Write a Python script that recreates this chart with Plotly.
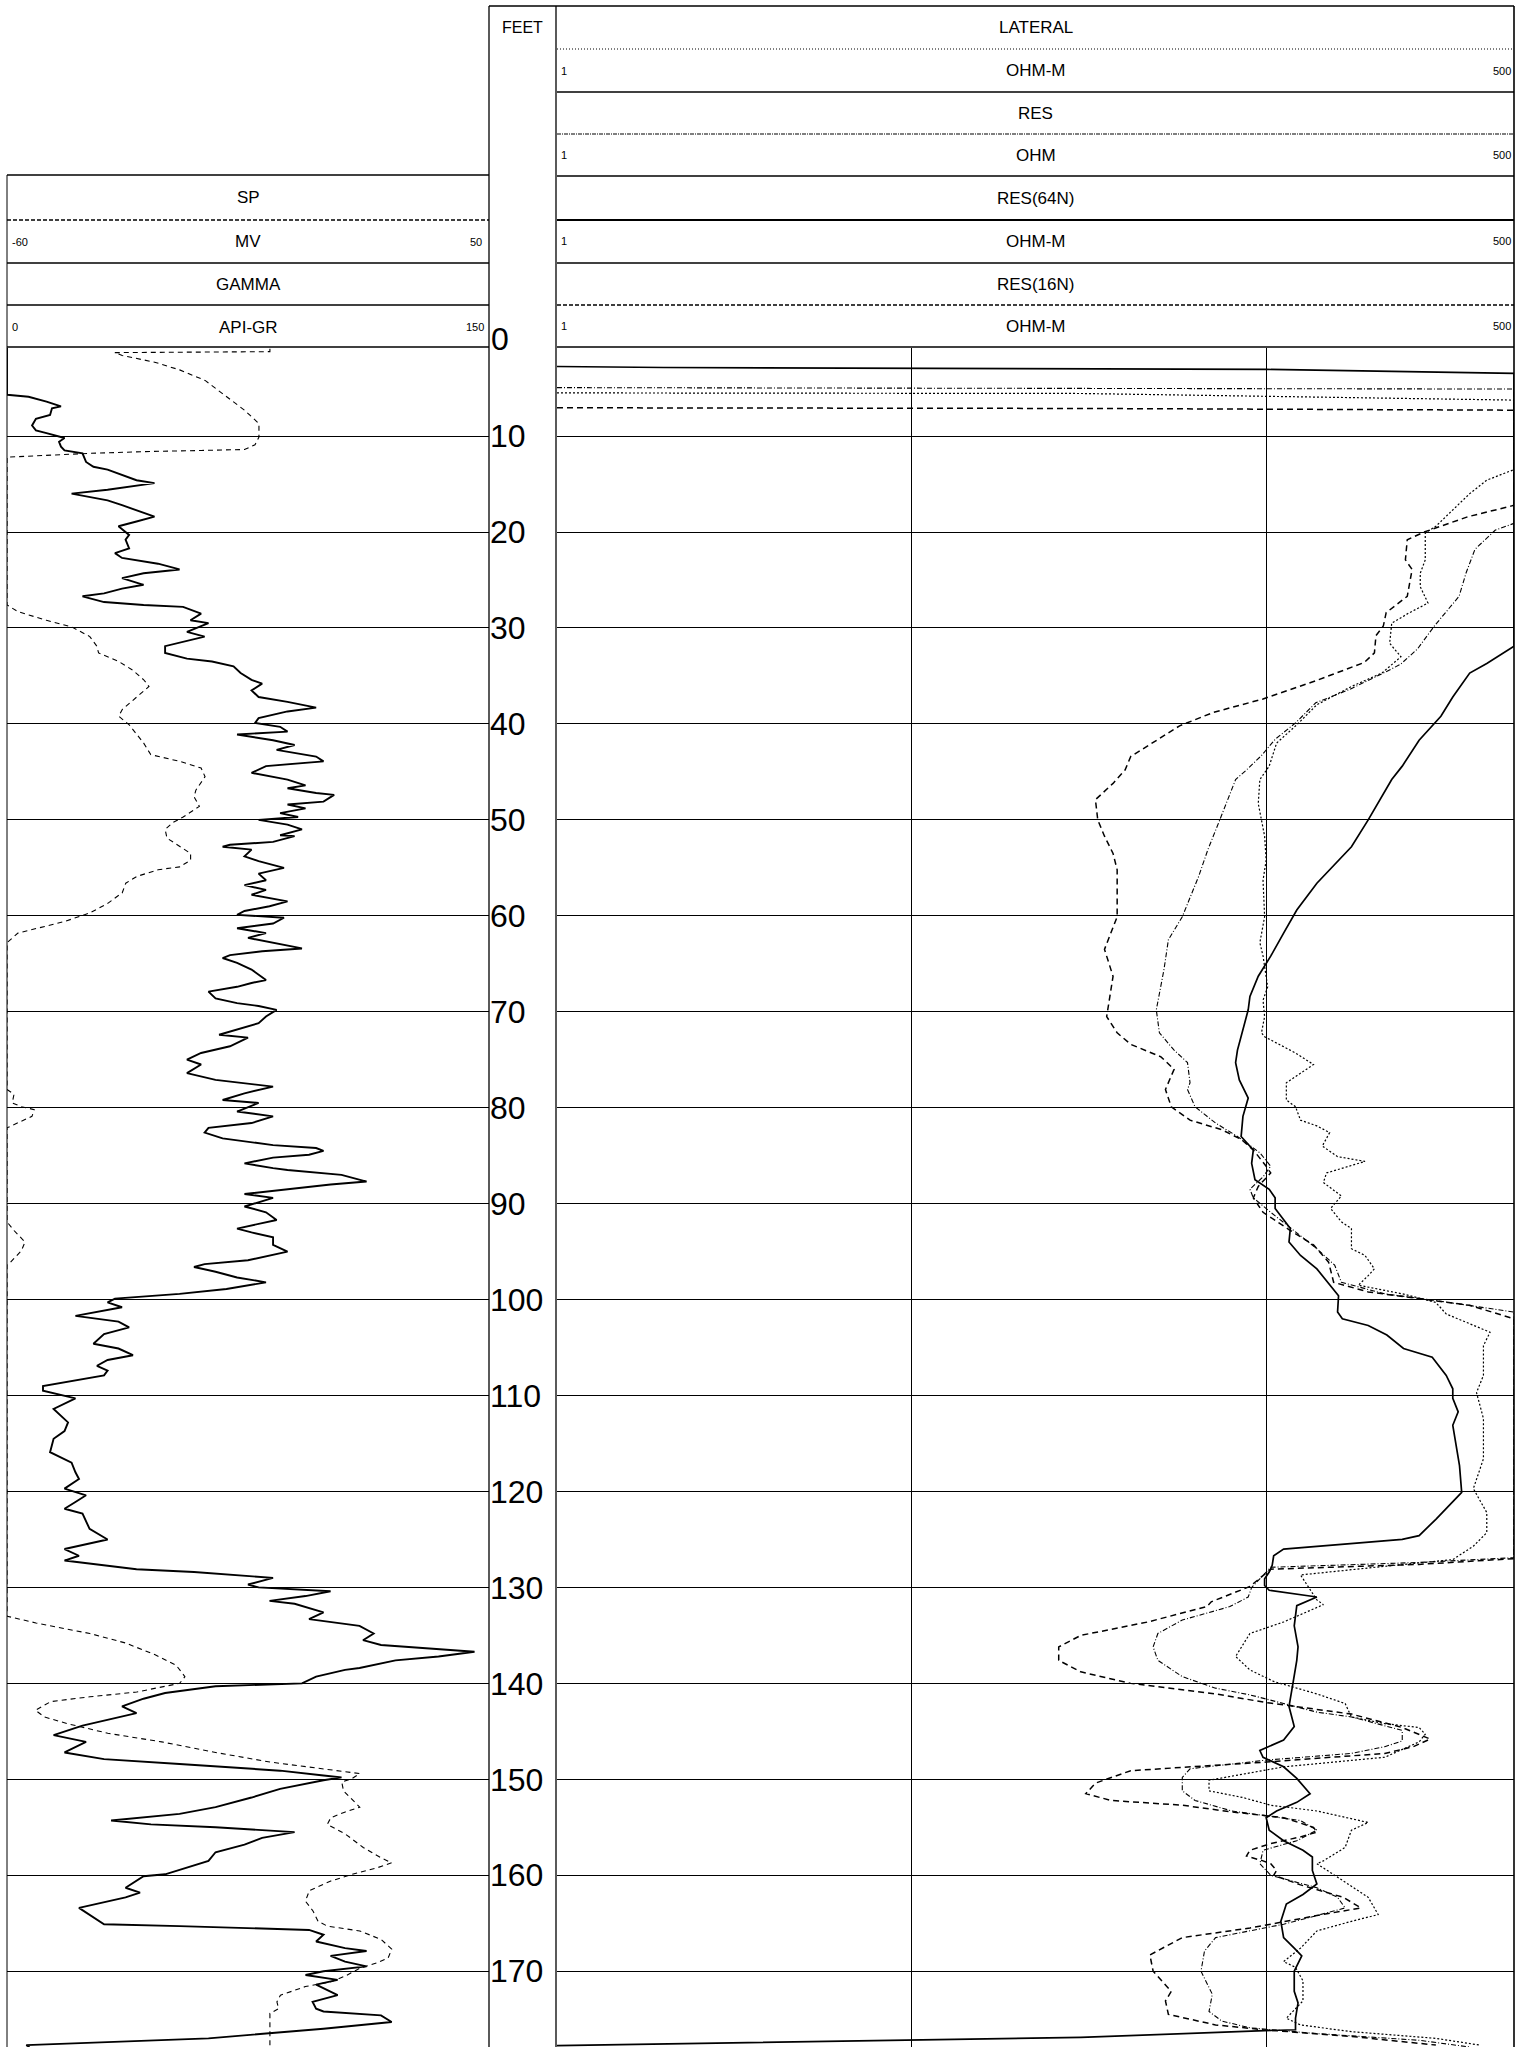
import math
import plotly.graph_objects as go

# ---------------- data (depth in feet, value in curve units) ----------------
DEPTH_TICKS = list(range(10, 180, 10))

GAMMA_API = [
(0.82,0),(5.7,0),(5.9,6.7),(6.4,12.3),(6.9,16.8),(7.1,14.0),(7.8,13.4),(8.2,9.0),(8.9,7.8),(9.4,9.0),(9.7,12.3),(10.2,17.9),(10.6,16.2),(11.1,16.8),(11.5,17.9),(11.8,23.5),(12.7,24.6),(13.2,26.9),(13.5,31.3),(14.2,36.9),(14.6,40.3),(14.9,45.9),(15.6,31.3),(16.0,20.1),(16.3,24.6),(16.7,31.3),(17.2,35.8),(17.7,40.3),(18.4,45.9),(18.9,40.3),(19.4,34.7),(20.3,38.0),(20.8,36.9),(21.7,38.0),(22.2,33.6),(22.7,35.8),(23.3,47.0),(23.9,53.7),(24.3,42.5),(24.8,35.8),(25.5,42.5),(25.9,35.8),(26.4,30.2),(26.7,23.5),(27.3,30.2),(27.6,42.5),(27.8,54.8),(28.5,60.4),(29.2,57.1),(29.5,62.7),(30.4,56.0),(30.9,61.5),(31.9,49.2),(32.6,49.2),(33.2,56.0),(33.5,63.8),(34.0,70.5),(34.7,72.7),(35.4,76.1),(35.8,79.4),(36.5,76.1),(37.2,78.3),(37.7,87.3),(38.3,96.2),(38.7,87.3),(39.4,78.3),(39.9,77.2),(40.3,85.0),(40.8,87.3),(41.1,71.6),(41.7,82.8),(42.2,89.5),(42.7,83.9),(43.4,96.2),(43.9,98.5),(44.4,80.6),
(45.1,76.1),(45.8,87.3),(46.4,92.9),(46.7,87.3),(47.2,96.2),(47.4,101.8),(48.1,98.5),(48.4,87.3),(48.8,92.9),(49.3,85.0),(49.7,90.6),(50.0,78.3),(50.5,87.3),(51.0,91.8),(51.6,85.0),(51.7,89.5),(52.3,82.8),(52.6,69.4),(52.8,67.1),(53.1,76.1),(53.8,73.9),(54.3,78.3),(55.0,86.2),(55.6,78.3),(56.3,80.6),(56.8,73.9),(57.3,80.6),(57.8,76.1),(58.5,87.3),(59.0,81.7),(59.5,73.9),(59.9,71.6),(60.2,86.2),(60.8,82.8),(61.3,71.6),(61.8,80.6),(62.3,75.0),(63.4,91.8),(63.7,79.4),(64.1,69.4),(64.4,67.1),(64.9,71.6),(65.6,76.1),(66.7,80.6),(67.0,76.1),(67.4,71.6),(67.9,62.7),(68.6,64.9),(69.1,71.6),(69.4,78.3),(69.8,83.9),(70.5,80.6),(71.2,78.3),(72.4,66.0),(72.7,75.0),(73.6,69.4),(74.3,60.4),(75.0,56.0),(75.5,60.4),(76.4,56.0),(77.1,64.9),(77.8,82.8),(78.5,73.9),(79.2,67.1),(79.5,78.3),(80.4,71.6),(80.9,82.8),(81.6,76.1),(82.1,62.7),(82.6,61.5),(83.2,67.1),(83.9,82.8),(84.2,96.2),(84.5,98.5),(84.9,94.0),(85.2,82.8),(85.8,73.9),(86.3,82.8),(86.5,87.3),(87.0,104.1),(87.7,111.9),(88.0,100.7),(88.5,87.3),(89.0,73.9),(89.4,82.8),
(90.3,73.9),(90.9,80.6),(91.7,83.9),(92.6,71.6),(93.0,76.1),(93.5,82.8),(94.3,82.8),(95.0,87.3),(95.9,75.0),(96.3,61.5),(96.6,58.2),(97.1,64.9),(97.7,71.6),(98.2,80.6),(98.9,68.3),(99.4,53.7),(99.9,33.6),(100.3,31.3),(100.8,35.8),(101.7,21.3),(102.3,34.7),(102.9,38.0),(103.6,30.2),(104.6,26.9),(105.1,34.7),(105.8,39.2),(106.3,31.3),(106.9,28.0),(107.4,31.3),(107.9,30.2),(109.0,11.2),(109.5,11.2),(110.3,21.3),(111.4,14.5),(112.8,19.0),(113.7,17.9),(114.5,14.5),(115.9,13.4),(117.0,20.1),(118.0,21.3),(118.7,22.4),(119.7,17.9),(120.4,24.6),(121.1,21.3),(121.8,17.9),(122.3,23.5),(123.2,24.6),(123.9,25.7),(125.0,31.3),(126.0,17.9),(126.7,22.4),(127.2,17.9),(128.1,40.3),(128.4,58.2),(129.0,82.8),(129.7,75.0),(130.0,78.3),(130.4,100.7),(130.9,92.9),(131.4,81.7),(131.7,89.5),(132.6,98.5),(133.3,94.0),(134.0,109.7),
(134.8,114.1),(135.5,110.8),(136.0,116.4),(136.7,145.5),(137.2,134.3),(137.6,120.9),(138.4,109.7),(138.6,105.2),(139.3,96.2),(140.0,91.8),(140.3,64.9),(141.0,49.2),(141.6,42.5),(142.4,35.8),(143.1,40.3),(144.0,29.1),(144.4,23.5),(145.4,14.5),(146.1,24.6),(147.2,17.9),(147.9,30.2),(148.4,53.7),(149.1,85.0),(149.6,98.5),(149.8,104.1),(150.1,98.5),(151.0,85.0),(151.9,76.1),(152.9,64.9),(153.6,53.7),(154.3,32.4),(154.7,44.8),(155.0,64.9),(155.5,89.5),(156.1,79.4),(156.8,73.9),(157.6,64.9),(158.5,62.7),(159.9,49.2),(160.1,42.5),(160.6,40.3),(161.3,36.9),(161.8,41.4),(162.3,36.9),(163.4,22.4),(164.4,26.9),(165.1,30.2),(165.3,53.7),(165.7,94.0),(166.2,98.5),(166.9,96.2),(167.6,105.2),(167.9,111.9),(168.4,100.7),(169.0,105.2),(169.5,111.9),(170.0,98.5),(170.4,92.9),(170.9,102.9),(171.4,96.2),(172.5,102.9),(173.2,95.1),(173.9,96.2),(174.2,98.5),(174.6,116.4),(175.3,119.7),(176.0,98.5),(177.0,62.7),(177.7,6.0),(177.9,7.0)]

SP_MV = [
(0.9,0),(1.2,0),(1.3,-35.4),(1.6,-33.7),(2.3,-26.3),(3.1,-20.6),(4.2,-14.8),(5.6,-10.7),(7.3,-5.8),(8.7,-2.5),(10.1,-2.5),(10.9,-3.4),(11.4,-5.8),(11.5,-15.7),(11.6,-27.2),(11.8,-41.1),(12.1,-57.5),(12.2,-60),
(27.6,-60),(28.3,-57.5),(29.2,-51.0),(29.9,-45.2),(30.9,-41.1),(31.9,-39.5),(32.6,-39.1),(33.5,-34.5),(34.4,-31.3),(35.4,-28.8),(36.1,-27.6),(37.2,-30.4),(38.5,-33.7),(39.2,-34.5),(40.1,-32.1),(40.8,-30.9),(42.0,-28.8),(43.2,-27.2),(43.9,-20.6),(44.6,-15.7),
(45.5,-14.8),(46.9,-16.9),(47.6,-17.3),(48.6,-16.1),(49.7,-19.8),(50.3,-22.2),(51.0,-23.9),(51.9,-23.5),(52.8,-20.6),(53.5,-18.1),(54.2,-18.1),(54.9,-20.6),(55.2,-25.5),(55.9,-30.4),(56.6,-32.9),(57.6,-33.7),(58.7,-37.0),(59.7,-41.1),(60.6,-46.9),(61.3,-53.4),(61.8,-57.5),(62.8,-60),
(78.1,-60),(78.6,-58.4),(79.5,-58.8),(79.9,-56.7),(80.2,-53.8),(80.9,-54.3),(81.6,-57.5),(82.1,-60),
(91.9,-60),(92.8,-58.4),(94.0,-55.9),(94.9,-56.7),(96.1,-59.2),(96.4,-60),
(133.0,-60),(133.7,-53.4),(134.3,-46.9),(134.8,-41.1),(135.8,-32.9),(137.0,-26.3),(138.1,-21.4),(139.3,-19.4),(140.0,-20.6),(140.3,-23.9),(140.9,-30.4),(141.4,-41.1),(141.9,-50.0),(142.8,-53.5),(143.5,-51.5),(144.2,-46.2),(145.2,-37.0),(146.1,-24.7),(147.2,-12.4),(148.2,0.0),(148.9,12.2),(149.4,20.5),(149.9,18.8),(150.3,16.4),(151.2,16.8),(152.9,20.5),(153.4,17.2),(154.0,13.9),(154.7,13.1),(155.7,17.2),(157.1,21.3),(158.2,25.4),(158.7,27.8),(159.2,24.6),(159.9,18.8),(160.6,13.9),(161.6,9.0),(162.7,8.1),(163.7,9.8),(164.8,11.0),(165.3,13.1),(165.8,20.5),(166.7,25.4),(167.7,27.8),(168.6,27.0),(169.1,24.6),(169.7,20.5),(170.5,17.2),(171.1,13.9),(171.6,8.1),(172.5,2.4),(173.2,1.6),(173.9,2.0),(174.4,0.0),(177.9,0.0)]

RES64N_OHMM = [
(2.75,1),(2.85,2),(3.05,100),(3.47,500),(31.9,500),(33.7,419),(34.7,375),(37.2,336),(39.2,311),(40.3,292),(41.7,270),(44.4,242),(45.8,226),(50.0,194),(52.8,174),(56.6,139),(59.4,122),(61.8,112),(64.2,103),(66.3,95),(68.4,90),(69.8,89),(71.9,86),(74.0,83),(75.3,82),(77.1,84),(79.0,89),(80.9,86),(83.0,85),(84.4,92),(85.8,91),(87.5,93),(88.5,102),(89.4,106),(90.5,106),(92.6,117),(94.0,116),(95.4,125),(96.8,139),(99.6,160),(101.3,159),(102.0,164),(102.7,194),(103.7,219),(105.1,244),(106.0,294),(107.9,322),(109.3,336),(110.3,336),(111.7,348),(113.1,336),(114.9,343),(117.3,351),(120.1,356),(121.8,322),(122.9,301),(124.6,270),(125.0,242),(126.0,112),(126.7,105),(127.7,104),(128.4,102),(129.1,99),(129.8,99),(130.3,102),(131.0,139),(131.9,122),(134.0,120),(136.2,123),(137.6,122),(140.0,119),(142.4,116),(144.5,120),(145.9,112),(147.0,96),(147.7,98),(148.7,112),(149.9,122),(151.5,133),(152.4,122),(153.3,107),(154.0,100),(155.3,102),(156.4,112),(157.4,127),(158.1,135),(159.5,135),(160.9,139),(162.0,127),(163.0,114),(164.8,110),(166.5,112),(167.6,120),(168.4,126),(170.0,120),(172.1,120),(173.3,123),(174.9,121),(176.1,121),(176.2,99),(176.9,30),(177.75,1)]

RES16N_OHMM = [
(7.05,1),(7.12,30),(7.3,500),(17.2,500),(17.3,490),(18.4,371),(20.0,279),(20.8,250),(22.9,247),(23.9,258),(26.7,250),(28.4,218),(29.8,214),(30.8,204),(32.6,202),(33.6,189),(35.5,138),(37.4,98),(38.8,71),(40.2,57),(43.4,41.5),(44.8,40),(46.2,37),(47.9,33),(50.0,33.5),(51.7,35),(53.5,37),(55.2,38),(60.1,38),(63.5,35),(66.3,37),(69.1,36),(70.5,35.5),(72.2,38),(73.4,41.5),(74.7,50.5),(76.0,55),(78.1,52),(79.9,54),(81.3,61),(82.3,75),(83.3,85),(84.4,92),(86.1,100),(86.8,103),(88.2,95),(89.4,92),(90.9,98),(92.8,117),(94.3,136),(96.1,150),(98.2,155),(99.2,194),(99.9,270),(100.6,375),(102.0,500),(127.0,500),(127.6,270),(128.1,103),(129.9,90),(131.5,70),(132.0,68),(133.6,46.4),(135.0,30),(136.2,26),(137.6,26),(138.8,30),(140.0,41.5),(141.1,72),(142.0,100),(143.2,174),(144.6,242),(145.8,290),(146.6,260),(147.3,216),(148.2,100),(149.1,41.5),(150.4,33),(151.5,31),(152.2,36.5),(152.7,58),(153.4,80),(154.0,112),(155.0,136),(155.5,139),(156.0,125),(156.7,103),(157.4,90),(158.0,88),(158.5,98),(158.8,103),(159.5,107),(160.0,105),(161.0,125),(162.3,165),(163.4,185),(164.2,139),(165.5,90),(166.5,58),(168.3,47),(170.0,48),(172.1,54),(173.1,52),(174.5,53),(175.6,72),(176.1,98),(176.8,174),(177.7,301)]

RES_OHM = [
(4.95,1),(5.0,30),(5.1,500),(19.1,500),(19.8,443),(21.8,388),(24.3,366),(26.7,350),(28.1,326),(29.8,298),(32.2,267),(33.8,239),(34.7,214),(36.4,172),(37.8,138),(39.9,121),(41.6,106),(43.3,97),(44.8,88),(45.8,82),(50.0,74),(53.1,68.5),(55.9,64.5),(60.1,58),(62.5,53),(65.6,51.5),(69.8,49),(72.2,50),(74.0,55),(75.3,60),(77.4,61),(78.1,60),(79.9,63),(81.6,72),(83.0,83),(84.7,96),(86.1,103),(87.2,98),(88.5,90),(89.4,92),(90.9,103),(93.0,122),(94.7,139),(96.4,156),(98.2,163),(99.4,216),(100.1,301),(101.3,500),(126.9,500),(127.4,270),(127.9,103),(130.0,91),(131.0,89),(132.0,79),(133.4,58),(134.8,49.5),(136.2,48),(137.6,49.5),(139.3,58),(140.5,72),(141.2,90),(142.1,112),(143.0,139),(143.5,174),(144.9,242),(146.0,242),(146.6,216),(147.3,174),(148.0,100),(148.9,61),(149.8,58),(151.2,58),(152.2,63),(153.3,80),(154.3,125),(155.3,139),(156.4,122),(157.4,98),(158.8,96),(160.0,103),(161.3,139),(162.3,159),(163.4,167),(164.2,139),(165.1,112),(166.5,72),(167.9,67),(170.0,65.5),(172.4,70.5),(174.2,69),(175.2,75),(175.9,90),(176.5,139),(177.2,270),(177.9,375)]

LATERAL_OHMM = [
(5.5,1),(5.56,30),(6.25,500),(13.5,500),(13.9,468),(14.6,419),(16.0,375),(17.7,336),(19.4,301),(20.1,281),(21.5,281),(22.9,281),(24.3,272),(25.7,272),(27.4,286),(28.5,251),(29.5,226),(31.6,223),(33.0,240),(34.7,212),(36.1,174),(38.0,139),(40.1,122),(42.0,107),(44.4,102),(45.8,96),(48.3,95),(50.0,97),(51.7,99),(54.2,100),(56.3,98),(60.1,99),(62.8,96),(64.2,98),(67.4,101),(68.8,98),(70.5,99),(72.2,97),(72.6,99),(74.3,121),(75.5,136),(77.4,114),(79.2,114),(79.9,121),(81.3,125),(81.9,139),(82.6,151),(84.0,144),(85.1,159),(85.6,190),(86.8,148),(87.8,145),(89.2,163),(90.5,152),(91.9,163),(92.6,174),(94.7,174),(95.4,190),(96.8,202),(97.5,194),(98.5,182),(99.4,242),(100.3,301),(101.5,322),(103.4,428),(104.8,410),(107.9,410),(109.7,392),(112.4,410),(116.6,410),(119.7,384),(122.2,419),(124.3,419),(125.7,384),(127.1,336),(127.8,216),(128.7,125),(131.3,139),(131.8,145),(133.6,112),(134.8,90),(137.2,82),(138.6,90),(139.8,105),(141.1,139),(142.1,167),(143.5,174),(144.2,216),(144.6,270),(145.3,281),(146.1,270),(147.7,216),(148.7,112),(150.1,69),(151.2,69),(151.9,86),(152.7,103),(153.3,139),(154.5,194),(155.3,174),(157.1,167),(158.5,145),(158.8,139),(160.2,159),(162.3,194),(164.1,207),(164.8,174),(165.8,139),(167.6,125),(169.0,112),(169.6,121),(171.0,127),(173.1,127),(174.9,114),(175.6,125),(176.3,174),(177.0,301),(177.7,400)]

# ---------------- layout geometry (pixels of the 1518 x 2059 page) ----------------
W, H = 1518, 2059
FONT = "Liberation Sans, Arial, sans-serif"

def px(x):
    return x / W

def py(y):
    return 1 - y / H

L0, L1 = 7, 489          # left track
R0, R1 = 557, 1514       # right track
PLOT_TOP, PLOT_BOT = 348, 2047

fig = go.Figure()

def add_curve(pairs, xaxis, width, dash):
    fig.add_trace(go.Scatter(
        x=[p[1] for p in pairs], y=[p[0] for p in pairs], xaxis=xaxis, yaxis="y",
        mode="lines", line=dict(color="black", width=width, dash=dash),
        hoverinfo="skip", showlegend=False))

add_curve(SP_MV, "x2", 1.1, "5px,4px")
add_curve(GAMMA_API, "x", 1.9, "solid")
add_curve(RES16N_OHMM, "x3", 1.5, "6px,4px")
add_curve(RES_OHM, "x3", 1.1, "5px,2px,1px,2px")
add_curve(LATERAL_OHMM, "x3", 1.2, "2px,2px")
add_curve(RES64N_OHMM, "x3", 1.7, "solid")

shapes = []

def hline(y, x0, x1, dash="solid", width=1.3):
    shapes.append(dict(type="line", xref="paper", yref="paper", x0=px(x0), x1=px(x1),
                       y0=py(y), y1=py(y), line=dict(color="black", width=width, dash=dash)))

def vline(x, y0, y1, width=1.3, dash="solid"):
    shapes.append(dict(type="line", xref="paper", yref="paper", x0=px(x), x1=px(x),
                       y0=py(y0), y1=py(y1), line=dict(color="black", width=width, dash=dash)))

# frame lines
vline(L0, 175, PLOT_BOT, 1.0)
vline(L1, 6, PLOT_BOT, 1.3)
vline(R0 - 1, 6, PLOT_BOT, 1.3)
vline(R1, 6, PLOT_BOT, 1.6)
hline(6, L1, R1, "solid", 1.3)

# left header
hline(175, L0, L1, "solid", 1.6)
hline(220, L0, L1, "4px,2px", 1.3)
hline(263, L0, L1, "solid", 1.3)
hline(305, L0, L1, "solid", 1.6)
hline(347, L0, L1, "solid", 1.6)

# right header
hline(49, R0, R1, "1px,2px", 1.2)
hline(92, R0, R1, "solid", 1.5)
hline(134, R0, R1, "4px,1px,1px,1px", 1.2)
hline(176, R0, R1, "solid", 1.5)
hline(220, R0, R1, "solid", 2.2)
hline(263, R0, R1, "solid", 1.5)
hline(305, R0, R1, "4px,2px", 1.4)
hline(347, R0, R1, "solid", 1.6)

ann = []

def text(x, y, s, size=17, xanchor="center"):
    ann.append(dict(x=px(x), y=py(y), xref="paper", yref="paper", text=s, showarrow=False,
                    xanchor=xanchor, yanchor="middle", font=dict(family=FONT, size=size, color="black")))

LC = (L0 + L1) / 2
RC = (R0 + R1) / 2
text(522, 27, "FEET", 16)
text(LC, 197, "SP")
text(LC, 242, "MV")
text(10, 242, "-60", 11, "left")
text(484, 242, "50", 11, "right")
text(LC, 284, "GAMMA")
text(LC, 327, "API-GR")
text(10, 327, "0", 11, "left")
text(486, 327, "150", 11, "right")

RIGHT_HEADER = [("LATERAL", "OHM-M", 28, 71), ("RES", "OHM", 113, 155),
                ("RES(64N)", "OHM-M", 198, 241), ("RES(16N)", "OHM-M", 284, 326)]
for name, unit, yn, yu in RIGHT_HEADER:
    text(RC, yn, name)
    text(RC, yu, unit)
    text(R0 + 2, yu, "1", 11, "left")
    text(R1 - 1, yu, "500", 11, "right")

# depth label for 0 (above the first logged depth)
text(489, 339, "0", 32, "left")

fig.update_layout(
    width=W, height=H, margin=dict(l=0, r=0, t=0, b=0),
    paper_bgcolor="white", plot_bgcolor="white", showlegend=False,
    shapes=shapes, annotations=ann,
    xaxis=dict(domain=[px(L0), px(L1)], range=[0, 150], anchor="y", showgrid=False,
               showticklabels=False, zeroline=False, ticks="", showline=False),
    xaxis2=dict(overlaying="x", range=[-60, 50], anchor="y", showgrid=False,
                showticklabels=False, zeroline=False, ticks="", showline=False),
    xaxis3=dict(domain=[px(R0), px(R1)], type="log", range=[0, math.log10(500)], anchor="y",
                tickvals=[10, 100], showgrid=True, gridcolor="black", gridwidth=1.1,
                showticklabels=False, zeroline=False, ticks="", showline=False),
    yaxis=dict(domain=[py(PLOT_BOT), py(PLOT_TOP)], range=[177.9, 0.82], anchor="x", side="right",
               tickvals=DEPTH_TICKS, ticktext=[str(d) for d in DEPTH_TICKS],
               showgrid=True, gridcolor="black", gridwidth=1.4, zeroline=False, ticks="",
               showline=False, tickfont=dict(family=FONT, size=32, color="black")),
)

fig.write_html("out.html", config={"displayModeBar": False},
               post_script="document.body.style.margin='0';document.body.style.overflow='hidden';")
